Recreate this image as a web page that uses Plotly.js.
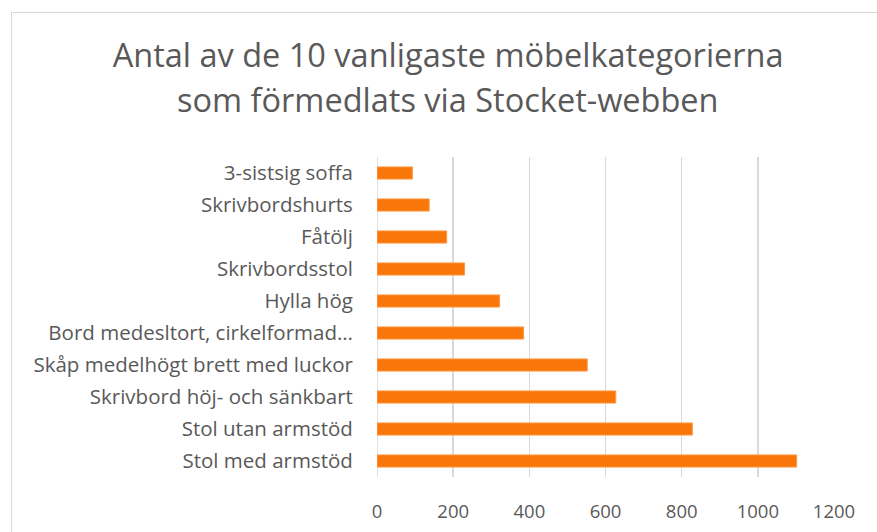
<!DOCTYPE html>
<html>
<head>
<meta charset="utf-8">
<script src="https://cdn.plot.ly/plotly-3.0.1.min.js"></script>
<style>
  body { margin: 0; background: #fff; }
  #chart { width: 877px; height: 532px; }
  #frame {
    position: absolute; left: 11px; top: 12px;
    width: 900px; height: 560px;
    border: 1px solid #d9d9d9; pointer-events: none;
  }
</style>
</head>
<body>
<div id="chart"></div>
<div id="frame"></div>
<script>
// bottom to top, as drawn
const categories = [
    'Stol med armstöd',
    'Stol utan armstöd',
    'Skrivbord höj- och sänkbart',
    'Skåp medelhögt brett med luckor',
    'Bord medesltort, cirkelformad…',
    'Hylla hög',
    'Skrivbordsstol',
    'Fåtölj',
    'Skrivbordshurts',
    '3-sistsig soffa'
];
const counts = [1102, 828, 627, 552, 385, 322, 230, 183, 137, 93];
const xTicks = [0, 200, 400, 600, 800, 1000, 1200];
const titleLines = [
    'Antal av de 10 vanligaste möbelkategorierna',
    'som förmedlats via Stocket-webben'
];

const grey = '#595959';
const gridGrey = '#d9d9d9';
const font = '"Open Sans", sans-serif';
const titleFont = { family: font, size: 32.5, color: grey };

const trace = {
    type: 'bar',
    orientation: 'h',
    y: categories,
    x: counts,
    marker: { color: '#f97709', line: { color: '#fb9a4a', width: 1 } },
    hoverinfo: 'x+y'
};

const layout = {
    width: 877,
    height: 532,
    margin: { l: 377, r: 43, t: 157, b: 55 },
    paper_bgcolor: '#fff',
    plot_bgcolor: '#fff',
    font: { family: font, color: grey },
    bargap: 0.62,
    showlegend: false,
    // excel centres the title on the chart frame, not the plot; and its line gap is wider
    // than plotly's, so the second line goes in as an annotation
    title: {
        text: titleLines[0],
        font: titleFont,
        x: 0.511, xanchor: 'center',
        y: 0.8955, yanchor: 'middle'
    },
    annotations: [{
        text: titleLines[1],
        font: titleFont,
        showarrow: false,
        xref: 'paper', yref: 'paper',
        x: 0.1554, xanchor: 'center',
        y: 1.18, yanchor: 'middle'
    }],
    xaxis: {
        range: [0, 1200],
        tickvals: xTicks,
        showgrid: true,
        gridcolor: gridGrey,
        gridwidth: 1.5,
        zeroline: false,
        showline: false,
        ticks: 'outside',
        ticklen: 18,
        tickcolor: 'rgba(0,0,0,0)',
        tickfont: { family: font, size: 18.5, color: grey },
        fixedrange: true
    },
    yaxis: {
        type: 'category',
        categoryorder: 'array',
        categoryarray: categories,
        showgrid: false,
        zeroline: false,
        showline: false,
        ticks: 'outside',
        ticklen: 19,
        tickcolor: 'rgba(0,0,0,0)',
        tickfont: { family: font, size: 20.5, color: grey },
        fixedrange: true
    },
    // gridline at 0 sits on the plot edge, plotly leaves it out
    shapes: [{
        type: 'line', layer: 'below',
        xref: 'x', yref: 'paper',
        x0: xTicks[0], x1: xTicks[0], y0: 0, y1: 1,
        line: { color: gridGrey, width: 1.5 }
    }]
};

Plotly.newPlot('chart', [trace], layout, { displayModeBar: false, staticPlot: true });
</script>
</body>
</html>
